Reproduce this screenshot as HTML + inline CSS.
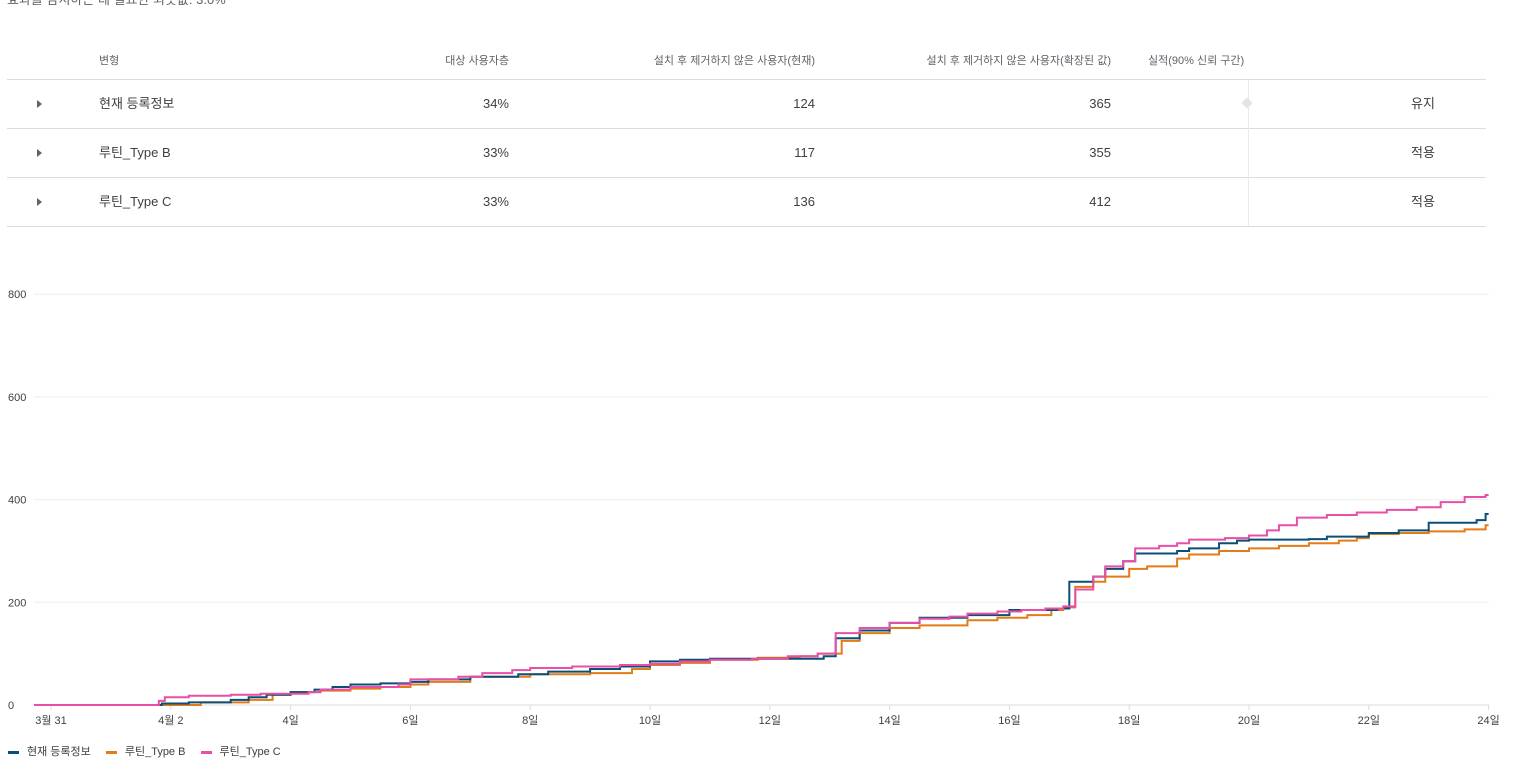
<!DOCTYPE html>
<html><head><meta charset="utf-8">
<style>
body{margin:0;width:1528px;height:766px;background:#fff;font-family:"Liberation Sans","Noto Sans CJK KR",sans-serif;color:#3c4043;position:relative;overflow:hidden}
.a{position:absolute;white-space:nowrap;line-height:16px}
.h{font-size:11px;color:#5f6368;top:53px}
.c{font-size:13px;color:#3c4043}
.hl{position:absolute;left:7px;width:1479px;height:1px;background:#dadce0}
.tri{position:absolute;width:0;height:0;border-top:4px solid transparent;border-bottom:4px solid transparent;border-left:5px solid #5f6368}
</style></head><body>
<div class="a" style="left:7px;top:-8px;font-size:13px;color:#5f6368">효과를 감지하는 데 필요한 최솟값: 3.0%</div>
<div>
<div class="a h" style="left:99px">변형</div>
<div class="a h" style="right:1019px">대상 사용자층</div>
<div class="a h" style="right:713px">설치 후 제거하지 않은 사용자(현재)</div>
<div class="a h" style="right:417px">설치 후 제거하지 않은 사용자(확장된 값)</div>
<div class="a h" style="left:1148px">실적(90% 신뢰 구간)</div>
<div class="hl" style="top:79px"></div><div class="hl" style="top:128px"></div><div class="hl" style="top:177px"></div><div class="hl" style="top:226px"></div>
<div style="position:absolute;left:1248px;top:80px;width:1px;height:146px;background:#e8eaed"></div>
<div style="position:absolute;left:1243px;top:99px;width:8px;height:8px;background:#e3e4e8;transform:rotate(45deg)"></div>

<div class="tri" style="left:37px;top:100px"></div>
<div class="a c" style="left:99px;top:96px">현재 등록정보</div>
<div class="a c" style="right:1019px;top:96px">34%</div>
<div class="a c" style="right:713px;top:96px">124</div>
<div class="a c" style="right:417px;top:96px">365</div>
<div class="a c" style="left:1411px;top:96px">유지</div>

<div class="tri" style="left:37px;top:149px"></div>
<div class="a c" style="left:99px;top:145px">루틴_Type B</div>
<div class="a c" style="right:1019px;top:145px">33%</div>
<div class="a c" style="right:713px;top:145px">117</div>
<div class="a c" style="right:417px;top:145px">355</div>
<div class="a c" style="left:1411px;top:145px">적용</div>

<div class="tri" style="left:37px;top:198px"></div>
<div class="a c" style="left:99px;top:194px">루틴_Type C</div>
<div class="a c" style="right:1019px;top:194px">33%</div>
<div class="a c" style="right:713px;top:194px">136</div>
<div class="a c" style="right:417px;top:194px">412</div>
<div class="a c" style="left:1411px;top:194px">적용</div>
</div>

<svg id="chart" width="1528" height="766" style="position:absolute;left:0;top:0" font-family="Liberation Sans, Noto Sans CJK KR, sans-serif"></svg>
<div style="position:absolute;left:8px;top:743px;font-size:11px;color:#3c4043">
<span><span style="display:inline-block;width:11px;height:3px;background:#0b4f79;vertical-align:middle;margin-right:8px"></span>현재 등록정보</span>
<span style="margin-left:12px"><span style="display:inline-block;width:11px;height:3px;background:#e37b17;vertical-align:middle;margin-right:8px"></span>루틴_Type B</span>
<span style="margin-left:12px"><span style="display:inline-block;width:11px;height:3px;background:#e84fa6;vertical-align:middle;margin-right:8px"></span>루틴_Type C</span>
</div>
<script>
const yTicks=[0,200,400,600,800];
const xTickDays=[0,2,4,6,8,10,12,14,16,18,20,22,24];
const xTickLabels=["3월 31","4월 2","4일","6일","8일","10일","12일","14일","16일","18일","20일","22일","24일"];
const startDay=-0.28, endDay=24;
const currentDays=[1.85,2.3,3.0,3.3,3.6,4.0,4.4,4.7,5.0,5.5,6.0,6.3,7.0,7.8,8.3,9.0,9.5,10.0,10.5,11.0,12.9,13.1,13.5,14.0,14.5,15.3,16.0,16.8,17.0,17.4,17.6,17.9,18.1,18.8,19.0,19.5,19.8,20.0,21.0,21.3,22.0,22.5,23.0,23.8,23.95];
const currentVals=[3,5,10,15,20,25,30,35,40,42,45,50,55,60,65,70,75,85,88,90,95,130,145,160,170,175,185,188,240,250,265,280,295,300,305,315,320,322,323,328,335,340,355,360,372];
const typeBDays=[2.5,3.3,3.7,4.0,4.5,5.0,5.5,6.0,6.3,7.0,8.0,9.0,9.7,10.0,10.5,11.0,11.8,12.5,12.8,13.2,13.5,14.0,14.5,15.3,15.8,16.3,16.7,16.9,17.1,17.4,17.6,18.0,18.3,18.8,19.0,19.5,20.0,20.5,21.0,21.5,21.8,22.0,22.5,23.0,23.6,23.95];
const typeBVals=[5,10,20,25,28,32,35,40,45,55,60,62,70,78,82,88,92,95,100,125,140,150,155,165,170,175,185,190,230,240,250,265,270,285,293,300,305,310,315,320,325,333,335,338,342,350];
const typeCDays=[1.8,1.9,2.3,3.0,3.5,4.3,4.5,5.0,5.8,6.0,6.8,7.2,7.7,8.0,8.7,9.5,10.0,10.5,11.0,11.7,12.3,12.8,13.1,13.5,14.0,14.5,15.0,15.3,15.8,16.2,16.6,16.9,17.1,17.4,17.6,17.9,18.1,18.5,18.8,19.0,19.6,20.0,20.3,20.5,20.8,21.3,21.8,22.3,22.8,23.2,23.6,23.95];
const typeCVals=[8,15,18,20,22,25,30,35,40,50,55,62,68,72,75,78,80,85,88,90,95,100,140,150,160,168,172,178,182,185,188,192,225,250,270,280,305,310,315,322,325,330,340,350,365,370,375,380,385,395,405,409];
const svg=document.getElementById('chart');
const NS='http://www.w3.org/2000/svg';
const x0=51,pxDay=59.9,y0=705,pxUnit=102.7/200;
const X=d=>x0+d*pxDay, Y=v=>y0-v*pxUnit;
function mk(t,a){const e=document.createElementNS(NS,t);for(const k in a)e.setAttribute(k,a[k]);svg.appendChild(e);return e;}
yTicks.forEach(v=>{
 const g=mk('line',{x1:X(startDay)-0,x2:1489,y1:Y(v),y2:Y(v),stroke:v===0?'#dadce0':'#eeeeee','stroke-width':1});
 
 
 const t=mk('text',{x:8,y:Y(v)+4,'font-size':11,fill:'#3c4043'});t.textContent=v;
 
 
});
xTickDays.forEach((d,i)=>{
 const l=mk('line',{x1:X(d),x2:X(d),y1:y0,y2:y0+5,stroke:'#dadce0'});
 
 
 const t=mk('text',{x:X(d),y:y0+19,'font-size':11,fill:'#3c4043','text-anchor':'middle'});t.textContent=xTickLabels[i];
 
 
});
function series(days,vals,color,name){
 let v=0,d='M'+X(startDay)+','+Y(0);
 days.forEach((dd,i)=>{d+=' L'+X(dd)+','+Y(v)+' L'+X(dd)+','+Y(vals[i]);v=vals[i];});
 d+=' L'+X(endDay)+','+Y(v);
 const p=mk('path',{d:d,fill:'none',stroke:color,'stroke-width':2});
 
 
}
series(typeBDays,typeBVals,'#e37b17','line-type-b');
series(currentDays,currentVals,'#0b4f79','line-current');
series(typeCDays,typeCVals,'#e84fa6','line-type-c');
</script>
</body></html>
